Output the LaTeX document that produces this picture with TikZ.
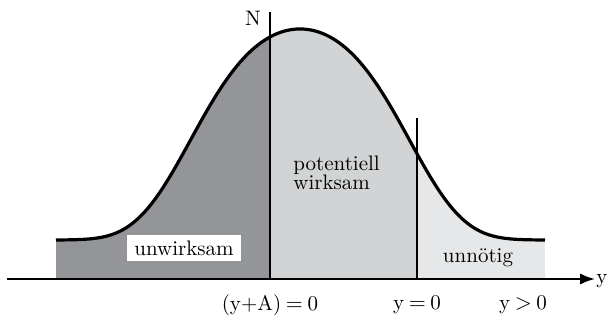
\documentclass[tikz,border=0pt]{standalone}
\usetikzlibrary{arrows.meta, positioning}

\definecolor{darkfill}{RGB}{147,149,152}
\definecolor{midfill}{RGB}{209,211,212}
\definecolor{lightfill}{RGB}{230,231,232}

% the bell curve, in pixel units of the picture
\newcommand{\bellcurve}{plot[domain=56:545, samples=160]
    (\x, {240-211*exp(-(0.414*(\x/100-3)*(\x/100-3) + 0.1747*((\x/100-3)*(\x/100-3))^2))})}

\begin{document}
\begin{tikzpicture}[
    x=0.5pt, y=-0.5pt,
    >=Latex, % Set default arrow tip style
    axis/.style={->, line width=1pt}, % Style for the y axis
    bell/.style={line width=1.6pt, line join=round}, % Style for the curve
    divider/.style={line width=1.3pt}, % Style for the vertical lines
    areatext/.style={font=\fontsize{10.5}{9.5}\selectfont, inner sep=0pt}, % Style for area labels
    ticktext/.style={font=\fontsize{10.5}{12}\selectfont, inner sep=0pt} % Style for axis labels
]
    \useasboundingbox (0,0) rectangle (607,321);

    % Filled areas under the curve
    \begin{scope}
        \clip \bellcurve -- (545,279) -- (56,279) -- cycle;
        \fill[darkfill] (56,0) rectangle (270,279);
        \fill[midfill] (270,0) rectangle (417,279);
        \fill[lightfill] (417,0) rectangle (545,279);
    \end{scope}

    % Curve
    \draw[bell] \bellcurve;

    % Axis
    \coordinate (origin) at (7,279);
    \coordinate (yend) at (595,279);
    \draw[axis] (origin) -- (yend);
    \node[ticktext, anchor=west] (ylabel) at (596,281) {y};

    % Vertical lines
    \coordinate (ntop) at (270,12);
    \coordinate (nbot) at (270,279);
    \coordinate (ztop) at (417,118);
    \coordinate (zbot) at (417,279);
    \draw[divider] (ntop) -- (nbot);
    \draw[divider] (ztop) -- (zbot);
    \node[ticktext] (nlabel) at (253,18) {N};

    % Area labels
    \node[areatext, fill=white, inner xsep=3.8pt, minimum height=13pt] (unwirksam) at (184,248) {unwirksam};
    \node[areatext, align=left, anchor=west] (potentiell) at (293,173) {potentiell\\wirksam};
    \node[areatext] (unnoetig) at (478,258) {unn\"otig};

    % Labels below the axis
    \node[ticktext] (lowlimit) at (270,305) {(y+A)\:$=$\:0};
    \node[ticktext] (zero) at (417,305) {y\:$=$\:0};
    \node[ticktext] (positive) at (523,305) {y\:$>$\:0};

\end{tikzpicture}
\end{document}
